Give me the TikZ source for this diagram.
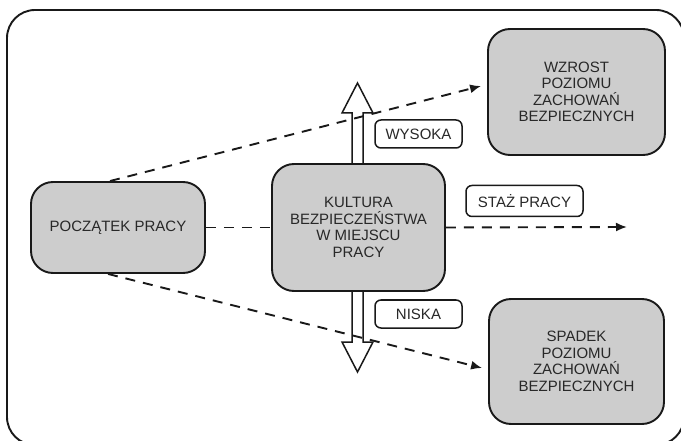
\documentclass[tikz,border=0pt]{standalone}
\usepackage{fontspec}
\setmainfont{Liberation Sans}
\usetikzlibrary{calc,arrows.meta}
\definecolor{boxgray}{RGB}{205,205,205}
\definecolor{edge}{RGB}{25,25,25}
\definecolor{ink}{RGB}{40,40,40}
\begin{document}
\begin{tikzpicture}[x=1pt,y=-1pt,
  mainbox/.style={draw=edge, line width=1.9pt, fill=boxgray, rounded corners=22pt,
    align=center, text=ink, font=\fontsize{15}{16.5}\selectfont, inner sep=0pt},
  tag/.style={draw=edge, line width=1.5pt, fill=white, rounded corners=6pt,
    text=ink, font=\fontsize{15}{16.5}\selectfont, inner sep=0pt},
  link/.style={draw=edge, line width=1.9pt, dash pattern=on 10pt off 8pt},
  flow/.style={link, -{Latex[length=11pt,width=9pt]}},
  bigarrow/.style={draw=edge, line width=1.5pt, fill=white, line join=miter}
]
\useasboundingbox (0,0) rectangle (681,441);
\draw[edge, line width=1.9pt, rounded corners=28pt] (7,10) rectangle (684,445);

% vertical double arrow (behind the central box)
\draw[bigarrow] (357.5,83) -- (373,113) -- (363,113) -- (363,342) -- (373,342)
  -- (357.5,372) -- (342,342) -- (352,342) -- (352,113) -- (342,113) -- cycle;

\node[mainbox, minimum width=174pt, minimum height=91pt] (start) at (118,227.5) {POCZĄTEK PRACY};
\node[mainbox, minimum width=173pt, minimum height=127pt] (culture) at (358.5,227.5)
  {KULTURA\\BEZPIECZEŃSTWA\\W MIEJSCU\\PRACY};
\node[mainbox, minimum width=177pt, minimum height=126pt] (up) at (576.5,92)
  {WZROST\\POZIOMU\\ZACHOWAŃ\\BEZPIECZNYCH};
\node[mainbox, minimum width=175pt, minimum height=125pt] (down) at (576.5,361.5)
  {SPADEK\\POZIOMU\\ZACHOWAŃ\\BEZPIECZNYCH};

\node[tag, minimum width=87pt, minimum height=28pt] (high) at (418.5,134) {WYSOKA};
\node[tag, minimum width=87pt, minimum height=28pt] (low) at (418.5,314) {NISKA};
\node[tag, minimum width=117pt, minimum height=31pt] (tenure) at (524.5,201) {STAŻ PRACY};

\coordinate (rend) at (627,227);

\draw[link] (start.east) -- (culture.west);
\draw[flow] (culture.east) -- (rend);
\draw[flow] ([xshift=-8pt]start.north) -- ([xshift=-6pt,yshift=6pt]up.west);
\draw[flow] ([xshift=-10pt]start.south) -- ([xshift=-6pt,yshift=-6.5pt]down.west);
\end{tikzpicture}
\end{document}
